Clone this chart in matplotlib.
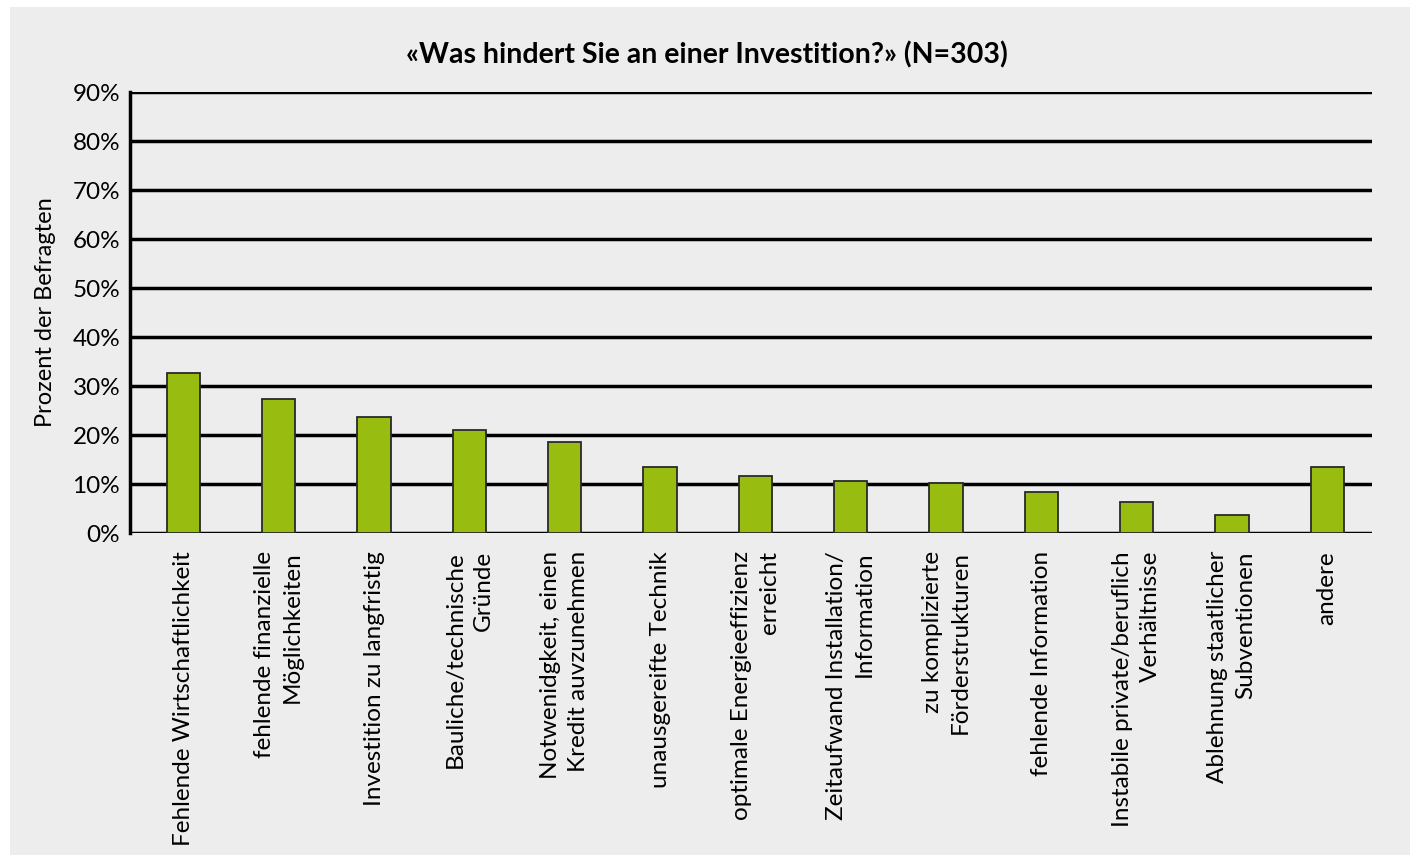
import matplotlib
matplotlib.use("Agg")
import matplotlib.pyplot as plt
from matplotlib.patches import Rectangle
from matplotlib.ticker import FuncFormatter

categories = [
    "Fehlende Wirtschaftlichkeit",
    "fehlende finanzielle\nMöglichkeiten",
    "Investition zu langfristig",
    "Bauliche/technische\nGründe",
    "Notwenidgkeit, einen\nKredit auvzunehmen",
    "unausgereifte Technik",
    "optimale Energieeffizienz\nerreicht",
    "Zeitaufwand Installation/\nInformation",
    "zu komplizierte\nFörderstrukturen",
    "fehlende Information",
    "Instabile private/beruflich\nVerhältnisse",
    "Ablehnung staatlicher\nSubventionen",
    "andere",
]
values = [32.7, 27.4, 23.7, 21.0, 18.5, 13.5, 11.6, 10.6, 10.3, 8.4, 6.4, 3.7, 13.5]
yticks = [0, 10, 20, 30, 40, 50, 60, 70, 80, 90]

plt.rcParams['font.family'] = ['Lato', 'DejaVu Sans']

W, H = 1421, 863
fig = plt.figure(figsize=(W / 100, H / 100), dpi=100, facecolor='white')
fig.patches.append(Rectangle((10 / W, 1 - 855 / H), 1400 / W, 848 / H,
                             transform=fig.transFigure, facecolor='#ECEDEC',
                             edgecolor='none', zorder=-10))

ax = fig.add_axes([130 / W, 1 - 533 / H, 1242 / W, 441 / H])
ax.set_facecolor('none')
ax.set_zorder(1)

x = list(range(len(values)))
ax.bar(x, values, width=0.35, color='#98BC10', edgecolor='#2A2A2A',
       linewidth=1.3, zorder=3)

ax.set_ylim(0, 90)
ax.set_xlim(-0.561, 12.47)
ax.set_yticks(yticks)
ax.yaxis.set_major_formatter(FuncFormatter(lambda v, p: f"{int(v)}%"))
for t in yticks:
    ax.axhline(t, color='black', linewidth=2.5, zorder=1)

for s in ['top', 'right', 'bottom']:
    ax.spines[s].set_visible(False)
ax.spines['left'].set_linewidth(2.5)
ax.spines['left'].set_color('black')
ax.tick_params(axis='y', length=0, pad=7, labelsize=17.5)
ax.tick_params(axis='x', length=0, pad=13)
ax.set_xticks(x)
ax.set_xticklabels(categories, rotation=90, ha='center', va='top',
                   multialignment='right', fontsize=17.5, linespacing=1.4)

ax.set_ylabel("Prozent der Befragten", fontsize=17, labelpad=12)
fig.text(707 / W, 1 - 55 / H, "«Was hindert Sie an einer Investition?» (N=303)",
         ha='center', va='center', fontsize=20.5, fontweight='bold')

fig.savefig("out.png", dpi=100, facecolor='white')
